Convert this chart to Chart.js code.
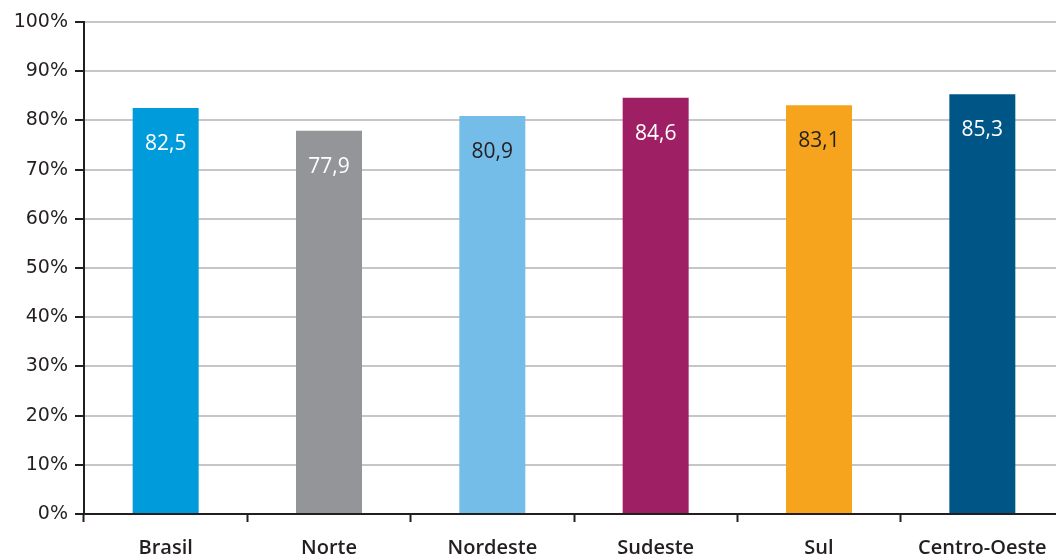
<!DOCTYPE html>
<html>
<head>
<meta charset="utf-8">
<script src="https://cdn.jsdelivr.net/npm/chart.js@4.4.1/dist/chart.umd.min.js"></script>
<style>
  html, body { margin: 0; padding: 0; background: #fff; overflow: hidden; }
  #wrap { width: 1064px; height: 558px; }
</style>
</head>
<body>
<div id="wrap"><canvas id="bar_Chart"></canvas></div>
<script>
const categories = ["Brasil", "Norte", "Nordeste", "Sudeste", "Sul", "Centro-Oeste"];
const values = [82.5, 77.9, 80.9, 84.6, 83.1, 85.3];
const bar_colors = ["#009bdb", "#939598", "#74bde8", "#9e1f63", "#f6a31e", "#005587"];
const label_colors = ["#ffffff", "#ffffff", "#231f20", "#ffffff", "#231f20", "#ffffff"];
const y_ticks = [0, 10, 20, 30, 40, 50, 60, 70, 80, 90, 100];

const fontFamily = "'DejaVu Sans', 'Open Sans', sans-serif";
const xFont = "'Open Sans', sans-serif";
const ink = "#231f20";

// draws the value inside each bar, near its top
const valueLabels = {
    id: 'valueLabels',
    afterDatasetsDraw(chart) {
        const ctx = chart.ctx;
        const meta = chart.getDatasetMeta(0);
        ctx.save();
        ctx.font = "21px " + xFont;
        ctx.textAlign = 'center';
        ctx.textBaseline = 'middle';
        meta.data.forEach((bar, i) => {
            ctx.fillStyle = label_colors[i];
            ctx.fillText(values[i].toFixed(1).replace('.', ','), bar.x, bar.y + 36);
        });
        ctx.restore();
    }
};

const bar_chart = document.querySelector("#bar_Chart").getContext('2d');
let chart = new Chart(bar_chart, {
    type: 'bar',
    data: {
        labels: categories,
        datasets: [{
            data: values,
            backgroundColor: bar_colors,
            borderWidth: 0,
            barPercentage: 0.404,
            categoryPercentage: 1
        }]
    },
    options: {
        responsive: true,
        maintainAspectRatio: false,
        animation: false,
        layout: { padding: { top: 22, right: 0, left: 0, bottom: 0 } },
        plugins: {
            legend: { display: false },
            tooltip: { enabled: false }
        },
        scales: {
            y: {
                min: 0,
                max: 100,
                afterBuildTicks: (s) => { s.ticks = y_ticks.map(v => ({ value: v })); },
                afterFit: (s) => { s.width = 84; },
                ticks: {
                    color: ink,
                    padding: 7,
                    font: { family: fontFamily, size: 19 },
                    callback: (v) => v + '%'
                },
                grid: {
                    color: '#c6c6c9',
                    lineWidth: 2,
                    tickColor: ink,
                    tickLength: 9,
                    tickWidth: 2
                },
                border: { display: true, color: ink, width: 2 }
            },
            x: {
                afterFit: (s) => { s.height = 44; },
                ticks: {
                    color: ink,
                    padding: 14,
                    font: { family: xFont, size: 20, weight: '600' }
                },
                grid: {
                    offset: true,
                    drawOnChartArea: false,
                    tickColor: ink,
                    tickLength: 8,
                    tickWidth: 2
                },
                border: { display: true, color: ink, width: 2 }
            }
        }
    },
    plugins: [valueLabels]
});
</script>
</body>
</html>
